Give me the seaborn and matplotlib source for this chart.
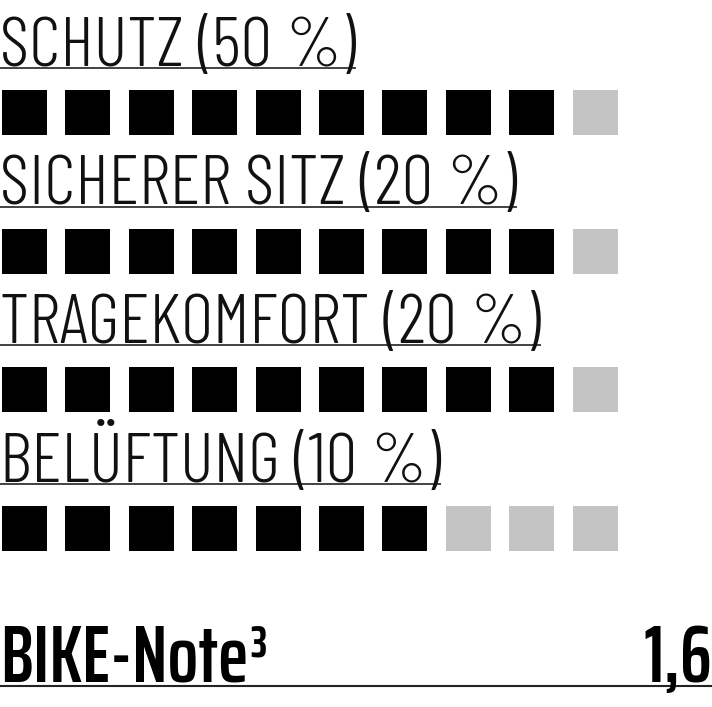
import matplotlib
matplotlib.use("Agg")
import matplotlib.pyplot as plt
import seaborn as sns
import pandas as pd

# ---- data ----
categories = ["SCHUTZ (50 %)", "SICHERER SITZ (20 %)", "TRAGEKOMFORT (20 %)", "BELÜFTUNG (10 %)"]
filled_counts = [9, 9, 9, 7]
total_slots = 10
note_label = "BIKE-Note³"
note_value = "1,6"

sns.set_theme(style="white")
plt.rcParams["font.family"] = ["Barlow Condensed", "DejaVu Sans"]

W, H = 712, 707
fig = plt.figure(figsize=(W / 100, H / 100), dpi=100)
ax = fig.add_axes([0, 0, 1, 1])
ax.set_xlim(0, W)
ax.set_ylim(H, 0)
ax.axis("off")

# layout
x0, pitch = 24.5, 63.4
row0_sq, row_pitch = 112.5, 138.5
row0_base = 66

rows = []
for r, (cat, n) in enumerate(zip(categories, filled_counts)):
    for s in range(total_slots):
        rows.append({"cat": cat, "row": r, "slot": s,
                     "x": x0 + pitch * s, "y": row0_sq + row_pitch * r,
                     "state": "voll" if s < n else "leer"})
df = pd.DataFrame(rows)

side_pt = 45 * 72 / 100
sns.scatterplot(data=df, x="x", y="y", hue="state",
                palette={"voll": "#000000", "leer": "#c4c4c4"},
                marker="s", s=side_pt ** 2, linewidth=0, legend=False, ax=ax)
ax.set_xlabel("")
ax.set_ylabel("")

fig.canvas.draw()
renderer = fig.canvas.get_renderer()
inv = ax.transData.inverted()

for r, cat in enumerate(categories):
    yb = row0_base + row_pitch * r
    t = ax.text(0, yb, cat, fontsize=51, fontweight=300, va="baseline", ha="left", color="#111111")
    bb = t.get_window_extent(renderer=renderer)
    xend = inv.transform((bb.x1, 0))[0]
    ax.plot([0, xend], [yb + 2, yb + 2], color="#222222", lw=1.2, solid_capstyle="butt")

yb = 682
bold_fam = ["Saira ExtraCondensed", "Barlow Condensed", "DejaVu Sans"]
ax.text(0, yb, note_label, fontsize=58, fontweight=600, family=bold_fam,
        va="baseline", ha="left", color="#000000")
ax.text(W, yb, note_value, fontsize=58, fontweight=600, family=bold_fam,
        va="baseline", ha="right", color="#000000")
ax.plot([0, W], [686, 686], color="#222222", lw=1.5, solid_capstyle="butt")

fig.savefig("out.png", dpi=100, facecolor="white")
